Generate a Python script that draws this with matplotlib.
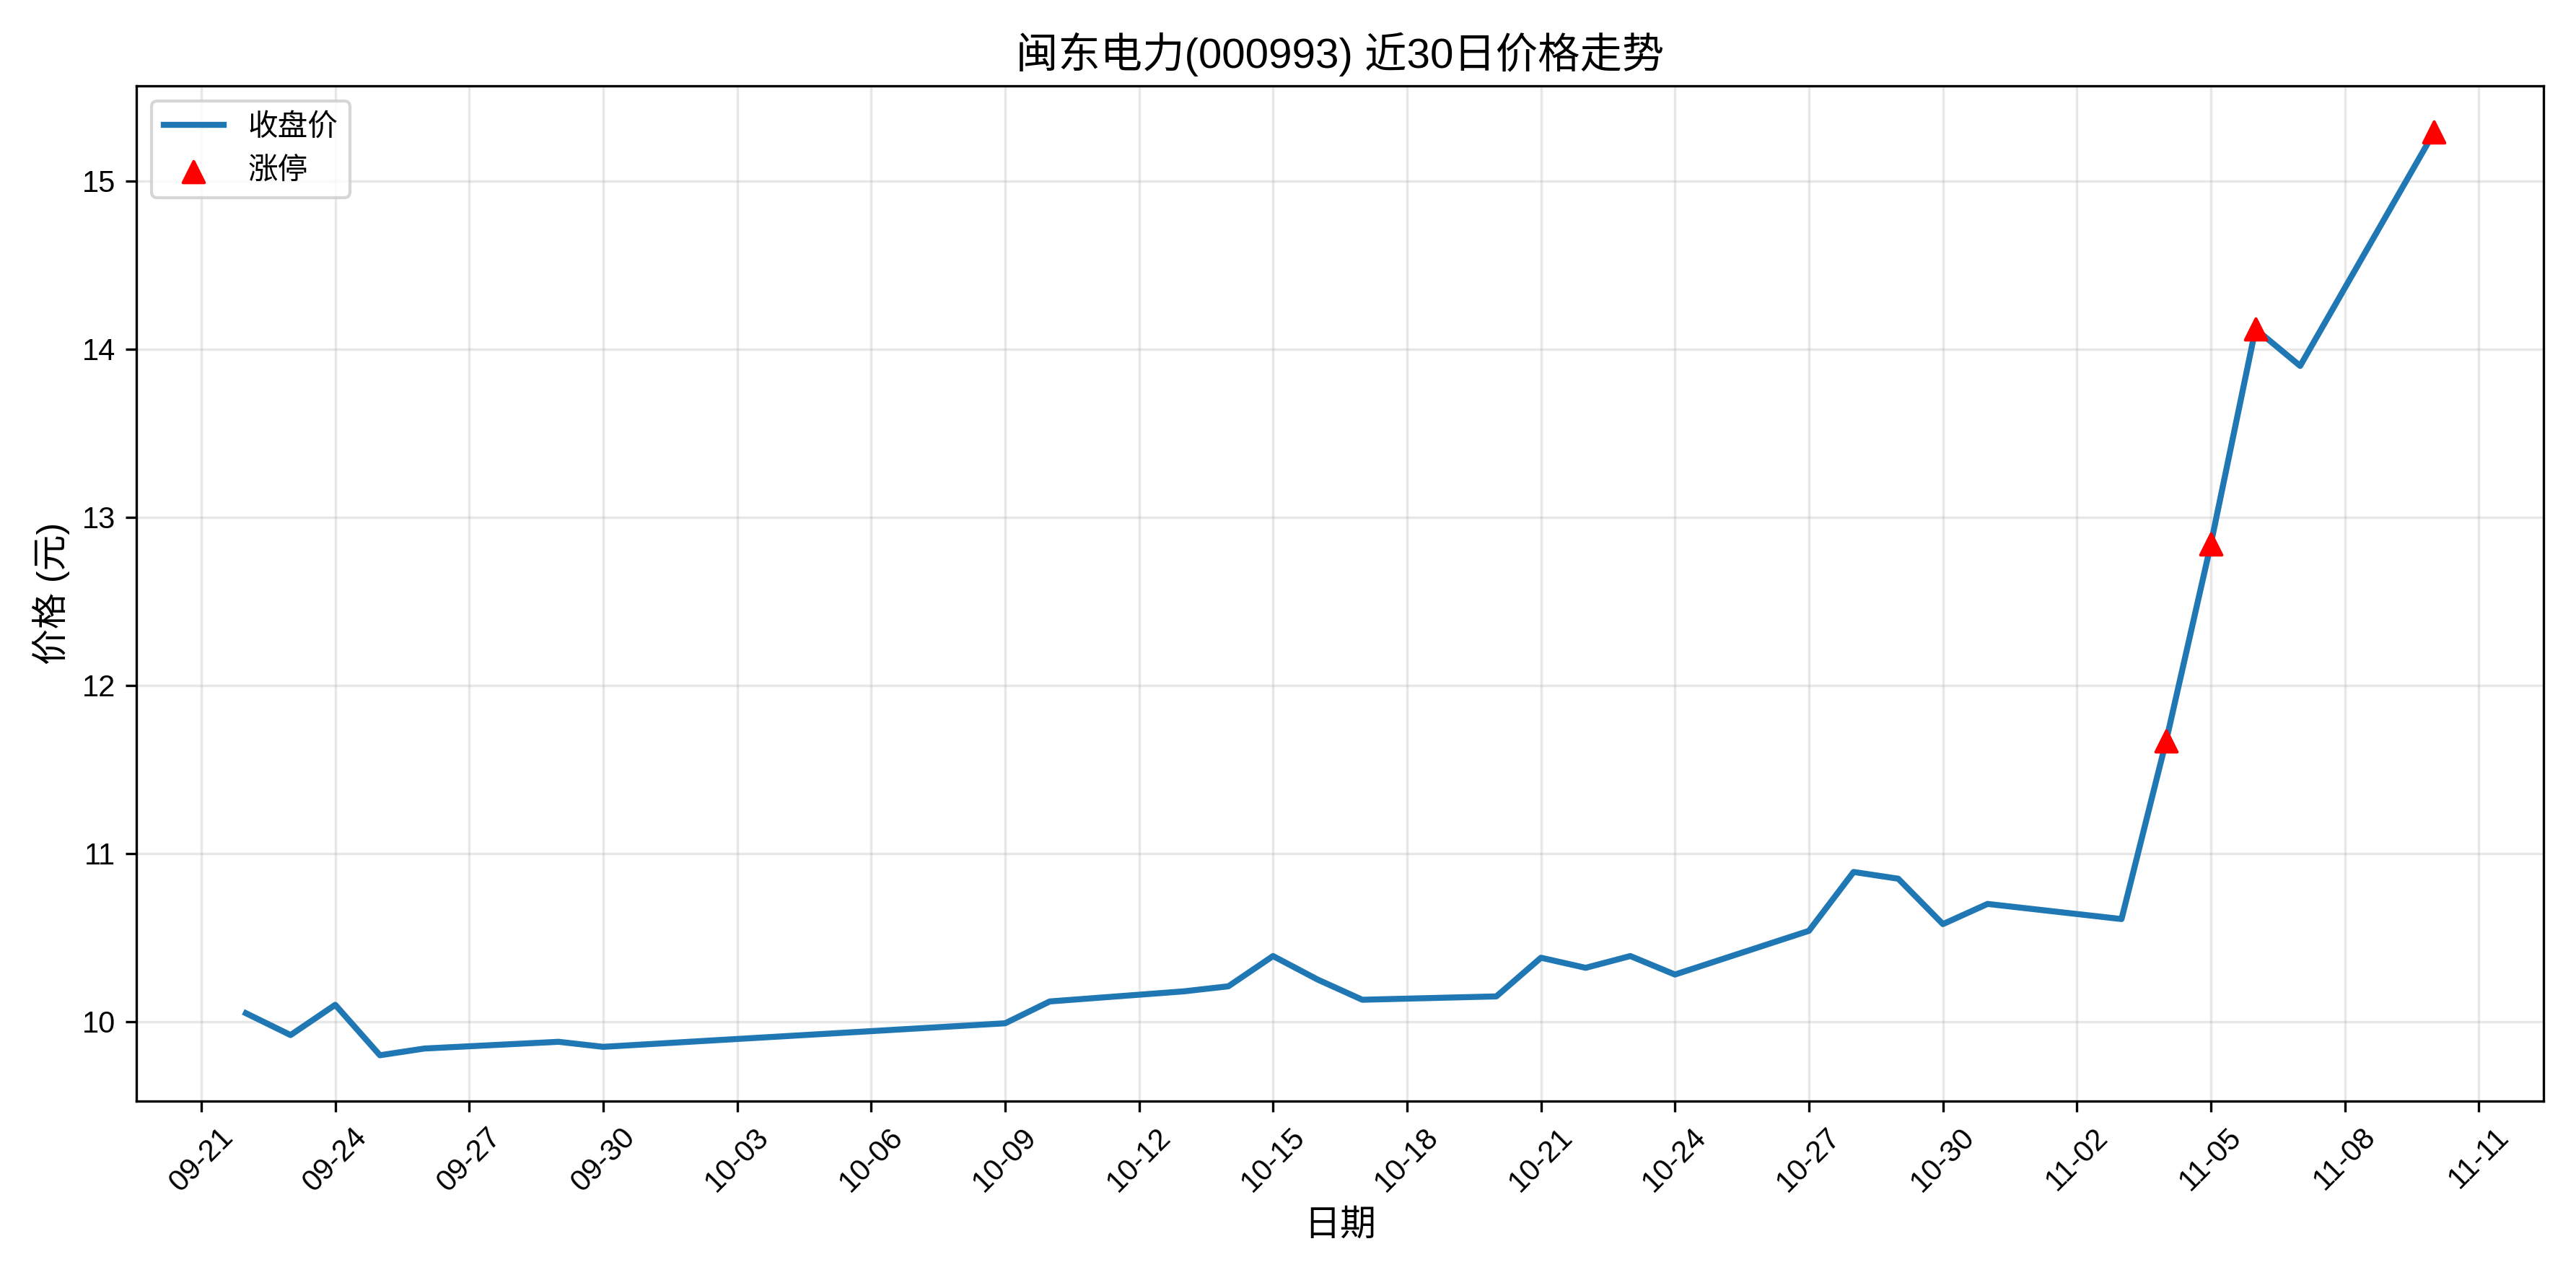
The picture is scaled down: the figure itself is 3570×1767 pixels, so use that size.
import matplotlib
matplotlib.use("Agg")
import matplotlib.pyplot as plt
import matplotlib.dates as mdates
import pandas as pd

plt.rcParams['font.family'] = ['Liberation Sans', 'Noto Sans CJK SC', 'DejaVu Sans']
plt.rcParams['axes.unicode_minus'] = False

# 收盘价数据
dates = ['2025-09-22', '2025-09-23', '2025-09-24', '2025-09-25', '2025-09-26',
         '2025-09-29', '2025-09-30', '2025-10-09', '2025-10-10', '2025-10-13',
         '2025-10-14', '2025-10-15', '2025-10-16', '2025-10-17', '2025-10-20',
         '2025-10-21', '2025-10-22', '2025-10-23', '2025-10-24', '2025-10-27',
         '2025-10-28', '2025-10-29', '2025-10-30', '2025-10-31', '2025-11-03',
         '2025-11-04', '2025-11-05', '2025-11-06', '2025-11-07', '2025-11-10']
close = [10.05, 9.92, 10.10, 9.80, 9.84,
         9.88, 9.85, 9.99, 10.12, 10.18,
         10.21, 10.39, 10.25, 10.13, 10.15,
         10.38, 10.32, 10.39, 10.28, 10.54,
         10.89, 10.85, 10.58, 10.70, 10.61,
         11.67, 12.84, 14.12, 13.90, 15.29]
limit_up_dates = ['2025-11-04', '2025-11-05', '2025-11-06', '2025-11-10']

df = pd.DataFrame({'date': pd.to_datetime(dates), 'close': close})
lu = df[df['date'].isin(pd.to_datetime(limit_up_dates))]

fig, ax = plt.subplots(figsize=(11.9, 5.89), dpi=300)
ax.plot(df['date'], df['close'], color='#1f77b4', linewidth=2, label='收盘价')
ax.scatter(lu['date'], lu['close'], color='red', marker='^', s=50, zorder=5, label='涨停')

ax.set_title('闽东电力(000993) 近30日价格走势', fontsize=14)
ax.set_xlabel('日期', fontsize=12)
ax.set_ylabel('价格 (元)', fontsize=12)
ax.grid(True, alpha=0.3)
ax.legend(loc='upper left')

ax.xaxis.set_major_locator(mdates.DayLocator(interval=3))
ax.xaxis.set_major_formatter(mdates.DateFormatter('%m-%d'))
plt.xticks(rotation=45)

plt.tight_layout()
plt.savefig('out.png', dpi=300)
